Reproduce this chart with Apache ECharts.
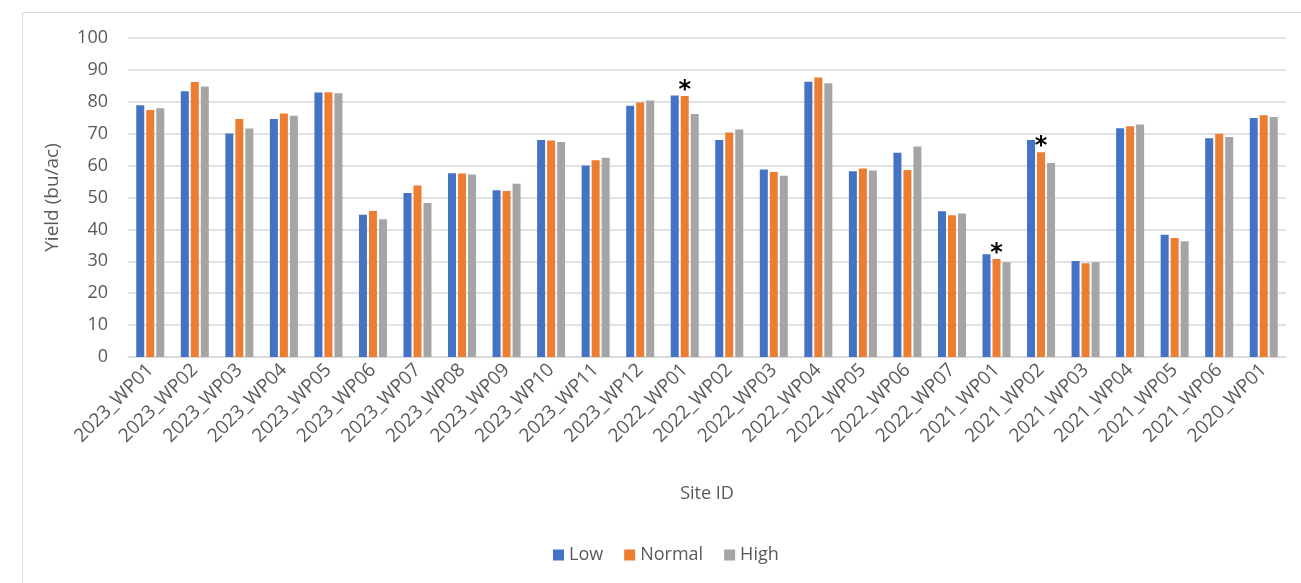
<!DOCTYPE html>
<html>
<head>
<meta charset="utf-8">
<script src="https://cdn.jsdelivr.net/npm/echarts@6/dist/echarts.min.js"></script>
<style>
html,body{margin:0;padding:0;background:#fff;}
#chart{width:1301px;height:583px;}
</style>
</head>
<body>
<div id="chart"></div>
<script>
const categories = ['2023_WP01','2023_WP02','2023_WP03','2023_WP04','2023_WP05','2023_WP06','2023_WP07','2023_WP08','2023_WP09','2023_WP10','2023_WP11','2023_WP12','2022_WP01','2022_WP02','2022_WP03','2022_WP04','2022_WP05','2022_WP06','2022_WP07','2021_WP01','2021_WP02','2021_WP03','2021_WP04','2021_WP05','2021_WP06','2020_WP01'];
const lowValues    = [78.9,83.3,70.1,74.6,82.9,44.6,51.4,57.6,52.3,68.0,60.0,78.8,82.0,68.0,58.8,86.3,58.2,64.0,45.7,32.2,68.0,30.1,71.7,38.3,68.6,74.9];
const normalValues = [77.4,86.2,74.6,76.3,83.0,45.8,53.8,57.5,52.0,67.9,61.7,79.8,81.8,70.4,58.0,87.6,59.1,58.6,44.4,30.7,64.2,29.4,72.3,37.3,70.0,75.8];
const highValues   = [78.0,84.8,71.6,75.6,82.7,43.2,48.3,57.2,54.3,67.4,62.5,80.4,76.2,71.3,56.8,85.8,58.5,66.0,45.0,29.7,60.8,29.7,72.9,36.3,69.0,75.2];
const significant  = ['2022_WP01','2021_WP01','2021_WP02'];
const yTicks = {min:0, max:100, interval:10};

const font = 'Open Sans';
const txt = '#595959';
const chart = echarts.init(document.getElementById('chart'), null, {renderer:'canvas'});
chart.setOption({
  animation:false,
  textStyle:{fontFamily:font},
  graphic:[{type:'rect',shape:{x:22.5,y:12.5,width:1300,height:600},style:{fill:'none',stroke:'#D9D9D9',lineWidth:1},silent:true}],
  grid:{left:128,right:15,top:38,bottom:226,containLabel:false},
  legend:{
    data:['Low','Normal','High'],
    bottom:14,left:548,
    itemWidth:11,itemHeight:11,itemGap:21,icon:'rect',
    textStyle:{fontFamily:font,fontSize:18,color:txt}
  },
  xAxis:{
    type:'category',data:categories,
    name:'Site ID',nameLocation:'middle',nameGap:128,
    nameTextStyle:{fontFamily:font,fontSize:18,color:txt},
    axisLine:{lineStyle:{color:'#D9D9D9',width:1.5}},
    axisTick:{show:false},
    axisLabel:{rotate:45,interval:0,fontFamily:font,fontSize:19,color:txt,margin:10}
  },
  yAxis:{
    type:'value',min:yTicks.min,max:yTicks.max,interval:yTicks.interval,
    name:'Yield (bu/ac)',nameLocation:'middle',nameGap:66,nameRotate:90,
    nameTextStyle:{fontFamily:font,fontSize:19,color:txt},
    axisLine:{show:false},axisTick:{show:false},
    axisLabel:{fontFamily:font,fontSize:18,color:txt,margin:20},
    splitLine:{lineStyle:{color:'#D9D9D9',width:1.5}}
  },
  series:[
    {name:'Low',type:'bar',data:lowValues,barWidth:8,barGap:'25%',itemStyle:{color:'#4472C4'}},
    {name:'Normal',type:'bar',data:normalValues,barWidth:8,barGap:'25%',itemStyle:{color:'#ED7D31'},
      label:{show:true,position:'top',distance:-7,fontSize:24,fontWeight:'bold',fontFamily:'DejaVu Sans',color:'#000',
        formatter:p=>significant.includes(p.name)?'*':''}},
    {name:'High',type:'bar',data:highValues,barWidth:8,barGap:'25%',itemStyle:{color:'#A5A5A5'}}
  ]
});
</script>
</body>
</html>
